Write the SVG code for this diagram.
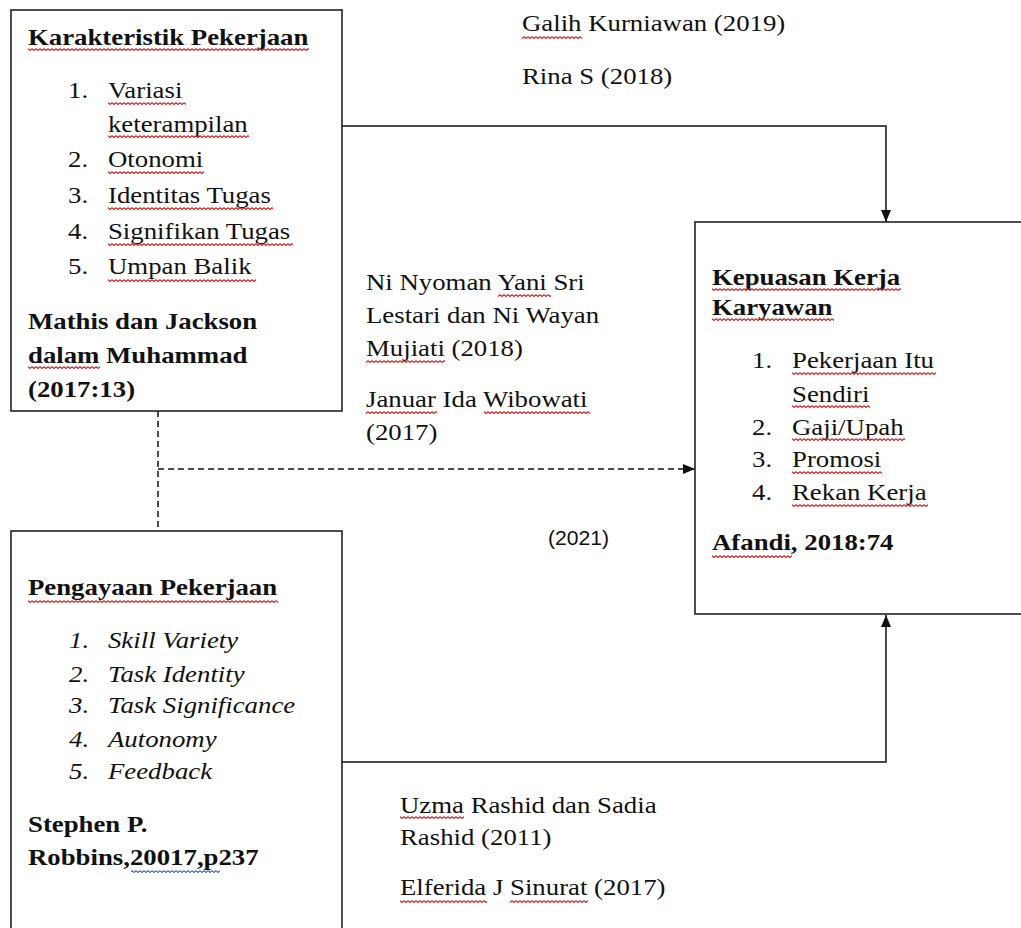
<svg xmlns="http://www.w3.org/2000/svg" width="1021" height="928" viewBox="0 0 1021 928">
<style>
.box{fill:#fff;stroke:#222;stroke-width:1.6}
.t{font-family:"Liberation Serif","Times New Roman",serif;font-size:23px;fill:#111}
.b{font-weight:bold}
.i{font-style:italic}
.ln{fill:none;stroke:#111;stroke-width:1.5}
.dash{stroke-dasharray:6 4}
.sq{fill:url(#sq)}
.sqb{fill:url(#sqb)}
</style>
<defs>
<pattern id="sq" width="4" height="3" patternUnits="userSpaceOnUse"><path d="M0,0.6 L2,2.4 L4,0.6" fill="none" stroke="#e01818" stroke-width="1.2"/></pattern>
<pattern id="sqb" width="4" height="3" patternUnits="userSpaceOnUse"><path d="M0,0.6 L2,2.4 L4,0.6" fill="none" stroke="#3a66d8" stroke-width="1.2"/></pattern>
<marker id="ah" viewBox="0 0 12 10" refX="12" refY="5" markerWidth="12" markerHeight="10" markerUnits="userSpaceOnUse" orient="auto"><path d="M0,0 L12,5 L0,10 z" fill="#111" stroke="none"/></marker>
</defs>
<rect width="1021" height="928" fill="#fff"/>

<g id="connectors">
<path class="ln" d="M342,126 H886 V222" marker-end="url(#ah)"/>
<path class="ln" d="M342,762 H886 V615" marker-end="url(#ah)"/>
<path class="ln dash" d="M158,411 V531"/>
<path class="ln dash" d="M158,469 H695" marker-end="url(#ah)"/>
</g>

<g id="karakteristik">
<rect class="box" x="11" y="10" width="331" height="401"/>
<g class="t" transform="scale(1.165,1)">
<text class="b" x="24.03" y="45">Karakteristik Pekerjaan</text>
<text x="58.37" y="98">1.</text><text x="92.7" y="98">Variasi</text>
<text x="92.7" y="132">keterampilan</text>
<text x="58.37" y="167">2.</text><text x="92.7" y="167">Otonomi</text>
<text x="58.37" y="203">3.</text><text x="92.7" y="203">Identitas Tugas</text>
<text x="58.37" y="239">4.</text><text x="92.7" y="239">Signifikan Tugas</text>
<text x="58.37" y="274">5.</text><text x="92.7" y="274">Umpan Balik</text>
<text class="b" x="24.03" y="329">Mathis dan Jackson</text>
<text class="b" x="24.03" y="363">dalam Muhammad</text>
<text class="b" x="24.03" y="397">(2017:13)</text>
</g>
<rect class="sq" x="28" y="48" width="281" height="3"/>
<rect class="sq" x="108" y="102" width="78" height="3"/>
<rect class="sq" x="108" y="135" width="141" height="3"/>
<rect class="sq" x="108" y="171" width="96" height="3"/>
<rect class="sq" x="108" y="207" width="165" height="3"/>
<rect class="sq" x="108" y="243" width="185" height="3"/>
<rect class="sq" x="108" y="279" width="148" height="3"/>
<rect class="sq" x="28" y="366" width="72" height="3"/>
</g>

<g id="pengayaan">
<rect class="box" x="11" y="531" width="331" height="420"/>
<g class="t" transform="scale(1.165,1)">
<text class="b" x="24.03" y="595">Pengayaan Pekerjaan</text>
<text class="i" x="59.23" y="648">1.</text><text class="i" x="92.7" y="648">Skill Variety</text>
<text class="i" x="59.23" y="682">2.</text><text class="i" x="92.7" y="682">Task Identity</text>
<text class="i" x="59.23" y="713">3.</text><text class="i" x="92.7" y="713">Task Significance</text>
<text class="i" x="59.23" y="747">4.</text><text class="i" x="92.7" y="747">Autonomy</text>
<text class="i" x="59.23" y="779">5.</text><text class="i" x="92.7" y="779">Feedback</text>
<text class="b" x="24.03" y="832">Stephen P.</text>
<text class="b" x="24.03" y="865">Robbins,20017,p237</text>
</g>
<rect class="sq" x="28" y="600" width="250" height="3"/>
<rect class="sqb" x="131" y="870" width="89" height="3"/>
</g>

<g id="kepuasan">
<rect class="box" x="695" y="222" width="340" height="392"/>
<g class="t" transform="scale(1.165,1)">
<text class="b" x="611.16" y="285">Kepuasan Kerja</text>
<text class="b" x="611.16" y="315">Karyawan</text>
<text x="645.49" y="368">1.</text><text x="679.83" y="368">Pekerjaan Itu</text>
<text x="679.83" y="402">Sendiri</text>
<text x="645.49" y="435">2.</text><text x="679.83" y="435">Gaji/Upah</text>
<text x="645.49" y="467">3.</text><text x="679.83" y="467">Promosi</text>
<text x="645.49" y="500">4.</text><text x="679.83" y="500">Rekan Kerja</text>
<text class="b" x="611.16" y="550">Afandi, 2018:74</text>
</g>
<rect class="sq" x="712" y="288" width="189" height="3"/>
<rect class="sq" x="712" y="318" width="122" height="3"/>
<rect class="sq" x="792" y="372" width="144" height="3"/>
<rect class="sq" x="792" y="405" width="78" height="3"/>
<rect class="sq" x="792" y="438" width="113" height="3"/>
<rect class="sq" x="792" y="471" width="90" height="3"/>
<rect class="sq" x="792" y="504" width="136" height="3"/>
<rect class="sq" x="712" y="555" width="80" height="3"/>
</g>

<g id="labels">
<g class="t" transform="scale(1.165,1)">
<text x="448.07" y="31">Galih Kurniawan (2019)</text>
<text x="448.07" y="84">Rina S (2018)</text>
<text x="314.16" y="290">Ni Nyoman Yani Sri</text>
<text x="314.16" y="323">Lestari dan Ni Wayan</text>
<text x="314.16" y="356">Mujiati (2018)</text>
<text x="314.16" y="407">Januar Ida Wibowati</text>
<text x="314.16" y="440">(2017)</text>
<text x="343.35" y="813">Uzma Rashid dan Sadia</text>
<text x="343.35" y="845">Rashid (2011)</text>
<text x="343.35" y="895">Elferida J Sinurat (2017)</text>
</g>
<text x="548" y="545" font-family="Liberation Sans, Arial, sans-serif" font-size="20" fill="#111" textLength="61" lengthAdjust="spacingAndGlyphs">(2021)</text>
<rect class="sq" x="522" y="36" width="60" height="3"/>
<rect class="sq" x="498" y="294" width="53" height="3"/>
<rect class="sq" x="366" y="360" width="79" height="3"/>
<rect class="sq" x="366" y="411" width="71" height="3"/>
<rect class="sq" x="484" y="411" width="106" height="3"/>
<rect class="sq" x="400" y="816" width="64" height="3"/>
<rect class="sq" x="400" y="900" width="87" height="3"/>
<rect class="sq" x="510" y="900" width="78" height="3"/>
</g>
</svg>
